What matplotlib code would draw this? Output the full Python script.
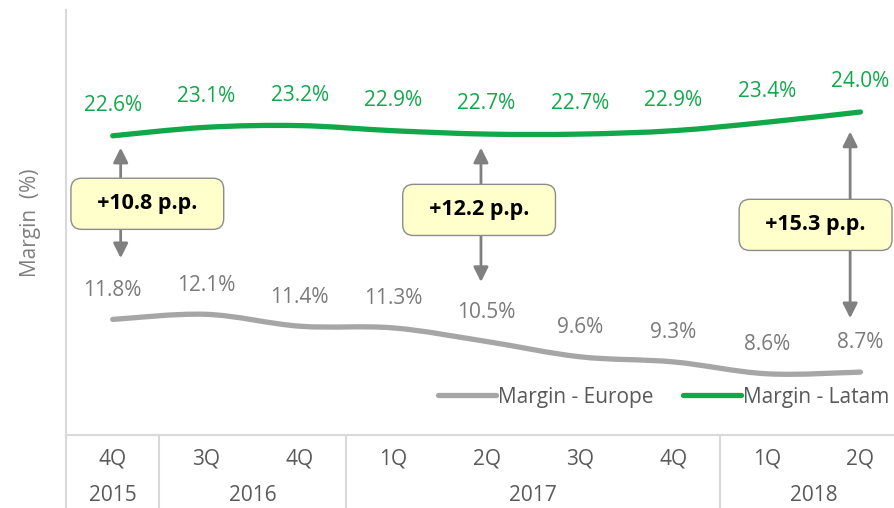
import numpy as np
import matplotlib.pyplot as plt
from matplotlib.path import Path
from matplotlib.patches import PathPatch

plt.rcParams['font.family'] = ['Open Sans', 'DejaVu Sans']

quarters = ['4Q', '3Q', '4Q', '1Q', '2Q', '3Q', '4Q', '1Q', '2Q']
years = ['2015', '2016', '2017', '2018']
year_first = [0, 1, 3, 7]
year_last = [0, 2, 6, 8]
europe = [11.8, 12.1, 11.4, 11.3, 10.5, 9.6, 9.3, 8.6, 8.7]
latam = [22.6, 23.1, 23.2, 22.9, 22.7, 22.7, 22.9, 23.4, 24.0]
gap_labels = ['+10.8 p.p.', '+12.2 p.p.', '+15.3 p.p.']

# annotation layout (arrows + boxes)
arrow_x = [0.085, 3.94, 7.89]
arrow_top = [21.9, 21.9, 22.85]
arrow_bot = [15.4, 14.0, 11.87]
box_x = [0.37, 3.92, 7.52]
box_y = [18.6, 18.24, 17.36]

green = '#12a84a'
grey_line = '#a6a6a6'
txt_grey = '#7a7a7a'


def smooth_path(xs, ys):
    # Catmull-Rom style bezier through the data points
    xs = np.asarray(xs, float)
    ys = np.asarray(ys, float)
    px = np.concatenate([[xs[0]], xs, [xs[-1]]])
    py = np.concatenate([[ys[0]], ys, [ys[-1]]])
    verts = [(xs[0], ys[0])]
    codes = [Path.MOVETO]
    for i in range(1, len(px) - 2):
        c1 = (px[i] + (px[i + 1] - px[i - 1]) / 6, py[i] + (py[i + 1] - py[i - 1]) / 6)
        c2 = (px[i + 1] - (px[i + 2] - px[i]) / 6, py[i + 1] - (py[i + 2] - py[i]) / 6)
        verts += [c1, c2, (px[i + 1], py[i + 1])]
        codes += [Path.CURVE4] * 3
    return Path(verts, codes)


fig = plt.figure(figsize=(8.95, 5.08), dpi=100)
ax = fig.add_axes([66 / 895, 73 / 508, 1 - 66 / 895, 425 / 508])

x = np.arange(len(quarters))

for vals, col in [(europe, grey_line), (latam, green)]:
    ax.add_patch(PathPatch(smooth_path(x, vals), facecolor='none', edgecolor=col,
                           lw=3.8, capstyle='round', zorder=3))
# empty lines only for the legend
ax.plot([], [], color=grey_line, lw=3.8, solid_capstyle='round', label='Margin - Europe')
ax.plot([], [], color=green, lw=3.8, solid_capstyle='round', label='Margin - Latam')

for i in range(len(x)):
    ax.annotate(f'{latam[i]:.1f}%', (x[i], latam[i]), xytext=(0, 22), textcoords='offset points',
                ha='center', va='center', color=green, fontsize=15)
    ax.annotate(f'{europe[i]:.1f}%', (x[i], europe[i]), xytext=(0, 21), textcoords='offset points',
                ha='center', va='center', color=txt_grey, fontsize=15)

for i in range(len(gap_labels)):
    ax.annotate('', xy=(arrow_x[i], arrow_top[i]), xytext=(arrow_x[i], arrow_bot[i]),
                arrowprops=dict(arrowstyle='<|-|>', color='#808080', lw=2, mutation_scale=22,
                                shrinkA=0, shrinkB=0), zorder=4)
    ax.text(box_x[i], box_y[i], '  ' + gap_labels[i] + '  ', ha='center', va='center',
            fontsize=15.5, fontweight='bold', color='black', zorder=5,
            bbox=dict(boxstyle='round,pad=0.7,rounding_size=0.5', facecolor='#ffffcc',
                      edgecolor='#8c8c8c', lw=1))

ax.set_xlim(-0.5, 8.37)
ax.set_ylim(5, 30)
ax.set_yticks([])
ax.set_xticks(x)
ax.set_xticklabels(quarters, fontsize=15, color='#595959')
ax.tick_params(axis='x', length=0, pad=10)

for s in ['top', 'right']:
    ax.spines[s].set_visible(False)
ax.spines['left'].set_color('#d9d9d9')
ax.spines['bottom'].set_color('#d9d9d9')
ax.spines['left'].set_linewidth(1.5)
ax.spines['bottom'].set_linewidth(1.5)

trans = ax.get_xaxis_transform()
ax.plot([-0.5, -0.5], [0, -0.175], color='#d9d9d9', lw=1.5, transform=trans, clip_on=False)
for k in range(len(years)):
    ax.text((year_first[k] + year_last[k]) / 2, -0.1435, years[k], transform=trans,
            ha='center', va='center', fontsize=15, color='#595959')
    if k > 0:
        ax.plot([year_first[k] - 0.5] * 2, [0, -0.175], color='#d9d9d9', lw=1.5,
                transform=trans, clip_on=False)

ax.set_ylabel('Margin  (%)', fontsize=15, color='#7f7f7f', labelpad=18)

leg = ax.legend(ncol=2, frameon=False, loc='lower right', bbox_to_anchor=(1.016, 0.02),
                fontsize=15, handlelength=2.8, handletextpad=0.1, columnspacing=1.4)
for t in leg.get_texts():
    t.set_color('#595959')

fig.savefig('out.png', dpi=100)
